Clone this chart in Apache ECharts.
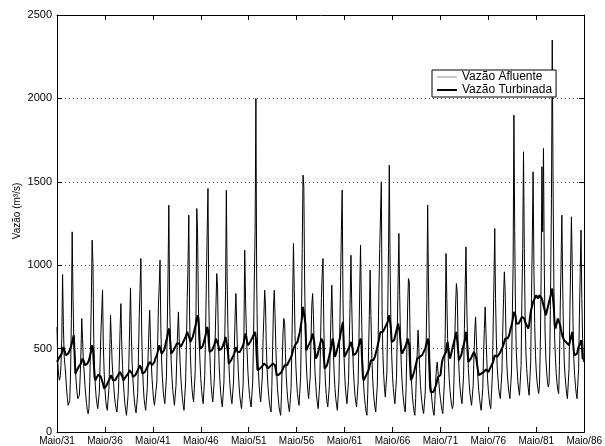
<!DOCTYPE html>
<html><head><meta charset="utf-8">
<script src="https://cdn.jsdelivr.net/npm/echarts@6/dist/echarts.min.js"></script>
<style>html,body{margin:0;padding:0;background:#fff}#c{width:605px;height:446px}</style>
</head><body><div id="c"></div>
<script>
// x tick labels (every 60 months, starting May 1931)
const tickLabels = ['Maio/31','Maio/36','Maio/41','Maio/46','Maio/51','Maio/56','Maio/61','Maio/66','Maio/71','Maio/76','Maio/81','Maio/86'];
const yTickValues = [0, 500, 1000, 1500, 2000, 2500];
const seriesNames = ['Vazão Afluente', 'Vazão Turbinada'];

// Monthly inflow (m3/s), one row per hydrological year May..Apr, 1931/32 .. 1985/86
const afluente = [
  [630, 420, 340, 310, 330, 400, 560, 944, 640, 450, 400, 330],
  [260, 200, 160, 150, 190, 360, 680, 1200, 820, 560, 470, 380],
  [300, 240, 200, 190, 220, 330, 480, 680, 560, 420, 360, 280],
  [220, 170, 130, 110, 140, 300, 520, 800, 1150, 1010, 560, 380],
  [280, 210, 170, 140, 130, 240, 420, 600, 720, 850, 520, 360],
  [260, 190, 150, 130, 140, 260, 460, 700, 560, 420, 340, 280],
  [210, 170, 140, 120, 130, 250, 420, 620, 770, 540, 400, 300],
  [230, 170, 130, 100, 90, 220, 420, 640, 864, 600, 420, 320],
  [240, 180, 140, 115, 110, 230, 460, 700, 860, 1040, 600, 400],
  [280, 200, 160, 130, 120, 260, 450, 600, 730, 560, 420, 320],
  [250, 190, 160, 150, 160, 300, 520, 760, 880, 1030, 620, 420],
  [320, 240, 200, 170, 180, 330, 620, 950, 1360, 780, 560, 420],
  [320, 250, 200, 160, 150, 280, 450, 600, 720, 560, 430, 330],
  [260, 200, 160, 130, 140, 300, 520, 800, 1000, 1300, 700, 460],
  [340, 260, 210, 180, 190, 360, 700, 1340, 1190, 760, 560, 420],
  [320, 250, 200, 170, 180, 340, 600, 900, 1200, 1460, 800, 520],
  [380, 280, 220, 180, 170, 320, 560, 760, 950, 870, 560, 400],
  [300, 230, 180, 150, 150, 300, 560, 850, 1450, 900, 620, 430],
  [320, 250, 200, 170, 160, 300, 500, 700, 830, 640, 480, 360],
  [270, 210, 170, 140, 130, 280, 560, 1090, 800, 620, 480, 360],
  [280, 220, 180, 150, 140, 300, 550, 900, 1200, 2000, 900, 520],
  [380, 280, 220, 180, 170, 330, 560, 700, 850, 760, 520, 380],
  [280, 220, 170, 140, 120, 280, 520, 750, 850, 700, 500, 360],
  [260, 200, 150, 120, 100, 220, 420, 600, 680, 650, 470, 330],
  [250, 190, 150, 120, 110, 260, 500, 800, 1130, 860, 580, 400],
  [300, 230, 190, 160, 160, 330, 650, 1100, 1540, 1470, 900, 600],
  [420, 320, 250, 200, 190, 330, 560, 760, 830, 700, 500, 360],
  [280, 210, 170, 140, 140, 300, 560, 800, 950, 1040, 640, 420],
  [300, 230, 180, 150, 140, 280, 500, 700, 880, 680, 480, 350],
  [260, 200, 160, 130, 130, 300, 600, 900, 1200, 1450, 800, 500],
  [360, 270, 210, 170, 160, 310, 560, 800, 1060, 760, 540, 380],
  [290, 220, 180, 150, 150, 300, 560, 850, 1120, 780, 520, 360],
  [270, 200, 160, 120, 100, 230, 480, 700, 970, 700, 480, 340],
  [250, 190, 150, 120, 120, 280, 550, 850, 1100, 1300, 1500, 700],
  [460, 340, 260, 210, 200, 360, 700, 1100, 1600, 1000, 650, 460],
  [340, 260, 210, 170, 160, 320, 600, 900, 1190, 820, 560, 400],
  [300, 230, 180, 140, 120, 260, 500, 760, 920, 900, 560, 380],
  [280, 210, 160, 120, 100, 200, 360, 480, 610, 500, 380, 280],
  [220, 170, 130, 110, 100, 240, 500, 800, 1360, 900, 560, 380],
  [280, 210, 160, 120, 100, 180, 300, 380, 420, 360, 300, 240],
  [200, 160, 130, 110, 120, 300, 600, 1070, 800, 560, 420, 320],
  [250, 200, 160, 140, 160, 320, 560, 760, 890, 840, 560, 400],
  [300, 240, 200, 170, 180, 340, 620, 880, 1110, 760, 520, 380],
  [290, 230, 190, 160, 150, 280, 460, 600, 690, 560, 420, 320],
  [250, 200, 160, 130, 120, 260, 460, 620, 750, 600, 440, 320],
  [250, 200, 160, 140, 150, 340, 620, 900, 1220, 800, 560, 400],
  [320, 260, 220, 200, 210, 360, 600, 800, 960, 850, 600, 420],
  [330, 270, 230, 200, 190, 360, 700, 1000, 1900, 1200, 700, 480],
  [380, 300, 250, 220, 220, 400, 800, 1100, 1680, 1100, 700, 480],
  [380, 310, 260, 220, 220, 420, 800, 1150, 1560, 1000, 650, 460],
  [360, 300, 260, 230, 280, 500, 900, 1590, 1200, 1700, 1000, 600],
  [440, 360, 300, 270, 290, 500, 900, 1400, 2350, 1500, 900, 560],
  [440, 350, 290, 250, 230, 400, 750, 1000, 1300, 900, 600, 420],
  [340, 280, 230, 200, 190, 380, 700, 1000, 1290, 1000, 650, 440],
  [340, 280, 230, 200, 190, 380, 700, 950, 1210, 800, 560, 420]
];

// Monthly turbined flow (m3/s), same layout
const turbinada = [
  [420, 430, 440, 450, 455, 460, 470, 490, 510, 500, 480, 460],
  [450, 460, 470, 480, 490, 500, 520, 540, 560, 580, 470, 350],
  [360, 370, 380, 390, 400, 400, 410, 420, 440, 430, 420, 400],
  [390, 400, 410, 420, 430, 450, 470, 490, 520, 500, 420, 330],
  [310, 320, 330, 340, 345, 350, 340, 330, 320, 300, 280, 260],
  [260, 270, 280, 290, 300, 310, 320, 330, 340, 330, 310, 300],
  [300, 310, 320, 330, 340, 345, 350, 360, 370, 350, 330, 310],
  [310, 320, 330, 335, 340, 350, 360, 370, 380, 370, 350, 330],
  [330, 335, 340, 350, 360, 370, 380, 390, 400, 390, 370, 350],
  [340, 350, 360, 370, 380, 390, 400, 410, 420, 430, 420, 400],
  [400, 410, 420, 440, 450, 460, 480, 500, 520, 530, 510, 470],
  [460, 470, 490, 510, 530, 550, 570, 600, 620, 600, 520, 470],
  [470, 480, 490, 500, 510, 520, 530, 540, 540, 530, 520, 510],
  [520, 530, 540, 550, 560, 570, 580, 600, 610, 600, 560, 540],
  [530, 550, 570, 590, 610, 630, 650, 680, 700, 680, 600, 500],
  [490, 500, 510, 520, 540, 560, 580, 600, 630, 610, 540, 480],
  [470, 480, 490, 500, 510, 520, 540, 560, 570, 560, 520, 490],
  [480, 490, 500, 510, 520, 530, 550, 570, 580, 560, 480, 410],
  [410, 420, 430, 440, 450, 460, 470, 490, 510, 500, 480, 470],
  [470, 480, 490, 500, 510, 520, 540, 570, 590, 570, 540, 520],
  [520, 530, 540, 550, 560, 570, 580, 590, 600, 560, 450, 370],
  [370, 375, 380, 385, 390, 395, 400, 410, 420, 410, 400, 390],
  [380, 385, 390, 395, 400, 405, 410, 420, 420, 400, 370, 340],
  [330, 340, 345, 350, 355, 360, 370, 380, 390, 400, 400, 400],
  [400, 410, 420, 430, 440, 450, 460, 480, 500, 510, 520, 520],
  [520, 540, 560, 580, 600, 630, 660, 700, 750, 760, 750, 650],
  [490, 500, 510, 520, 530, 540, 550, 570, 590, 580, 540, 480],
  [440, 450, 460, 480, 500, 520, 540, 560, 570, 540, 450, 380],
  [380, 390, 400, 420, 440, 460, 480, 500, 530, 560, 540, 500],
  [450, 460, 480, 500, 520, 540, 560, 590, 620, 640, 660, 520],
  [450, 460, 470, 480, 490, 500, 510, 520, 540, 530, 500, 460],
  [450, 460, 470, 480, 490, 500, 520, 540, 560, 540, 420, 330],
  [310, 320, 330, 340, 350, 360, 370, 390, 410, 430, 430, 430],
  [430, 440, 450, 470, 490, 510, 530, 550, 580, 600, 610, 600],
  [600, 610, 620, 630, 640, 650, 660, 680, 700, 700, 620, 540],
  [530, 540, 550, 570, 590, 610, 630, 650, 640, 600, 540, 490],
  [470, 480, 490, 500, 510, 520, 540, 560, 570, 520, 400, 310],
  [320, 330, 340, 360, 380, 400, 420, 440, 450, 450, 450, 450],
  [450, 460, 470, 480, 490, 500, 520, 540, 560, 540, 400, 270],
  [240, 230, 235, 240, 250, 260, 270, 290, 310, 330, 340, 340],
  [340, 380, 420, 440, 450, 460, 470, 480, 520, 540, 500, 460],
  [440, 460, 480, 500, 520, 540, 560, 580, 600, 590, 500, 430],
  [420, 440, 460, 480, 500, 520, 540, 560, 600, 580, 480, 420],
  [420, 430, 440, 450, 460, 470, 480, 480, 470, 440, 400, 370],
  [340, 340, 345, 350, 355, 360, 360, 365, 370, 375, 380, 380],
  [360, 370, 380, 390, 400, 410, 420, 440, 460, 460, 450, 450],
  [450, 460, 470, 480, 490, 500, 510, 520, 540, 560, 560, 560],
  [560, 570, 580, 600, 620, 640, 660, 690, 720, 730, 700, 650],
  [640, 640, 650, 660, 670, 680, 690, 700, 700, 680, 660, 650],
  [640, 630, 620, 640, 680, 720, 740, 760, 780, 790, 800, 810],
  [820, 810, 800, 810, 820, 830, 820, 800, 780, 760, 740, 720],
  [700, 720, 740, 760, 780, 800, 820, 840, 860, 850, 740, 640],
  [620, 640, 660, 680, 690, 670, 640, 610, 590, 570, 560, 550],
  [545, 540, 535, 530, 525, 520, 540, 560, 580, 600, 540, 480],
  [460, 450, 460, 470, 490, 510, 520, 530, 550, 520, 440, 440]
];

const FONT = '"Liberation Sans", Arial, Helvetica, sans-serif';
const toPairs = rows => rows.flat().map((v, i) => [i, v]);
const nSteps = tickLabels.length - 1;

const chart = echarts.init(document.getElementById('c'), null, {renderer: 'canvas'});
const xCommon = {
  type: 'value', min: 0, max: nSteps * 60, interval: 60,
  axisLine: {show: true, onZero: false, lineStyle: {color: '#000', width: 1}},
  axisTick: {show: true, inside: true, length: 5, lineStyle: {color: '#000'}},
  splitLine: {show: false}
};
const yCommon = {
  type: 'value', min: yTickValues[0], max: yTickValues[yTickValues.length - 1], interval: 500,
  axisLine: {show: true, onZero: false, lineStyle: {color: '#000', width: 1}},
  axisTick: {show: true, inside: true, length: 5, lineStyle: {color: '#000'}}
};

chart.setOption({
  animation: false,
  backgroundColor: '#fff',
  textStyle: {fontFamily: FONT},
  grid: {left: 57, right: 20, top: 15, bottom: 13, containLabel: false},
  xAxis: [
    Object.assign({}, xCommon, {
      position: 'bottom',
      axisLabel: {show: true, margin: 4, fontSize: 10, color: '#000', fontFamily: FONT,
        showMinLabel: true, showMaxLabel: true,
        formatter: v => tickLabels[Math.round(v / 60)] || ''}
    }),
    Object.assign({}, xCommon, {position: 'top', axisLabel: {show: false}})
  ],
  yAxis: [
    Object.assign({}, yCommon, {
      position: 'left',
      axisLabel: {show: true, margin: 5, fontSize: 11, color: '#000', fontFamily: FONT,
        formatter: v => String(v)},
      splitLine: {show: true, lineStyle: {color: '#555', width: 1, type: [1, 3]}}
    }),
    Object.assign({}, yCommon, {position: 'right', axisLabel: {show: false}, splitLine: {show: false}})
  ],
  legend: {
    left: 432, top: 70, orient: 'vertical',
    itemWidth: 20, itemHeight: 8, itemGap: 1,
    padding: [1, 4, 1, 5],
    borderColor: '#000', borderWidth: 1, backgroundColor: '#fff',
    textStyle: {fontSize: 12, color: '#000', fontFamily: FONT, lineHeight: 12},
    data: [
      {name: seriesNames[0], icon: 'path://M0,0L40,0L40,1L0,1Z', itemStyle: {color: '#222'}},
      {name: seriesNames[1], icon: 'path://M0,0L20,0L20,2L0,2Z', itemStyle: {color: '#000'}}
    ]
  },
  graphic: [{
    type: 'text', x: 17, y: 211, rotation: Math.PI / 2,
    style: {text: 'Vazão (m³/s)', fontSize: 10, fontFamily: FONT, fill: '#000',
      align: 'center', verticalAlign: 'middle'}
  }],
  series: [
    {name: seriesNames[0], type: 'line', xAxisIndex: 0, yAxisIndex: 0, data: toPairs(afluente), symbol: 'none',
      lineStyle: {color: '#000', width: 1}, itemStyle: {color: '#000'}, z: 2},
    {name: seriesNames[1], type: 'line', xAxisIndex: 0, yAxisIndex: 0, data: toPairs(turbinada), symbol: 'none',
      lineStyle: {color: '#000', width: 2}, itemStyle: {color: '#000'}, z: 3}
  ]
});
</script></body></html>
